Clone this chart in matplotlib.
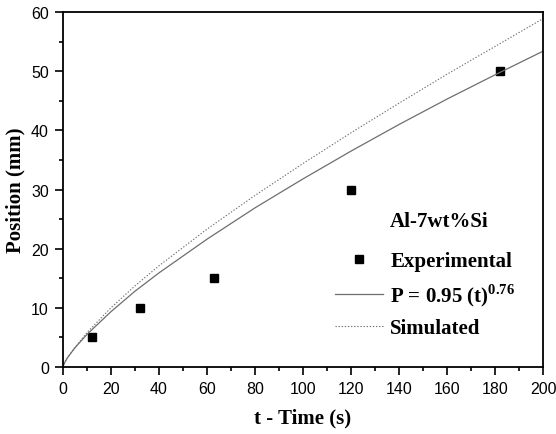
import matplotlib
matplotlib.use("Agg")
from matplotlib import pyplot as plt
from matplotlib.ticker import MultipleLocator

plt.rcParams["mathtext.fontset"] = "custom"
plt.rcParams["mathtext.bf"] = "Liberation Serif:bold"
plt.rcParams["mathtext.rm"] = "Liberation Serif"

# datos experimentales
t_exp = [12, 32, 63, 120, 182]
p_exp = [5, 10, 15, 30, 50]

# curvas
t_curva = [0, 1, 2, 5, 10, 20, 30, 40, 60, 80, 100, 120, 140, 160, 180, 200]
p_ajuste = [0, 0.95, 1.61, 3.23, 5.49, 9.34, 12.8, 15.9, 21.6, 26.9, 31.8, 36.5, 41.0, 45.3, 49.4, 53.4]
p_simulado = [0, 0.9, 1.6, 3.3, 5.8, 10.0, 13.7, 17.1, 23.3, 29.0, 34.4, 39.6, 44.6, 49.5, 54.2, 58.9]

fig, ax = plt.subplots(figsize=(5.56, 4.35), dpi=100)
fig.subplots_adjust(left=0.113, right=0.977, top=0.970, bottom=0.154)

ax.plot(t_exp, p_exp, "s", color="black", markersize=6, label="Experimental")
ax.plot(t_curva, p_ajuste, "-", color="#6e6e6e", linewidth=0.9, label=r"P = 0.95 (t)$^{\mathbf{0.76}}$")
ax.plot(t_curva, p_simulado, color="#6e6e6e", linewidth=0.8, dashes=(1.2, 1.6), label="Simulated")

ax.set_xlim(0, 200)
ax.set_ylim(0, 60)
ax.xaxis.set_major_locator(MultipleLocator(20))
ax.xaxis.set_minor_locator(MultipleLocator(10))
ax.yaxis.set_major_locator(MultipleLocator(10))
ax.yaxis.set_minor_locator(MultipleLocator(5))
ax.tick_params(which="both", direction="out", top=False, right=False, width=1.2)
ax.tick_params(which="major", length=6, labelsize=11.5, pad=4)
ax.tick_params(which="minor", length=3)
for lab in ax.get_xticklabels() + ax.get_yticklabels():
    lab.set_fontfamily("Liberation Sans")
for s in ax.spines.values():
    s.set_linewidth(1.3)

fuente = {"family": "Liberation Serif", "weight": "bold", "size": 15}
ax.set_xlabel("t - Time (s)", fontdict=fuente, labelpad=8)
ax.set_ylabel("Position (mm)", fontdict=fuente, labelpad=4)

fig.text(390 / 556, 1 - 222 / 435, "Al-7wt%Si", va="center", ha="left",
         fontdict={"family": "Liberation Serif", "weight": "bold", "size": 15})
leg = ax.legend(loc="upper left", bbox_to_anchor=(335 / 556, 1 - 252 / 435),
                bbox_transform=fig.transFigure, frameon=False,
                prop={"family": "Liberation Serif", "weight": "bold", "size": 15},
                borderpad=0, borderaxespad=0,
                handlelength=2.3, handletextpad=0.35, labelspacing=0.5)

fig.savefig("out.png", dpi=100)
